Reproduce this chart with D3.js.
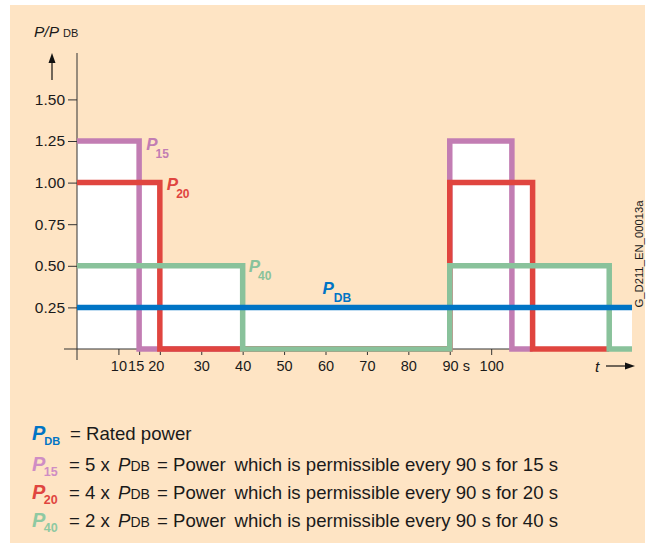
<!DOCTYPE html>
<html lang="en">
<head>
    <meta charset="UTF-8">
    <title>P/PDB duty cycle</title>
    <script src="https://d3js.org/d3.v7.min.js"></script>
    <style>
        body { margin: 0; background: #fff; }
        svg { display: block; font-family: "Liberation Sans", Arial, sans-serif; }
        .axis line, .axis-line { stroke: #333; stroke-width: 1px; }
        .axis path { display: none; }
        .axis text { fill: #1a1a1a; }
        .series { fill: none; stroke-width: 5.5px; stroke-linejoin: miter; stroke-linecap: butt; }
        .legend text { fill: #1a1a1a; font-size: 18.6px; }
    </style>
</head>
<body>
<svg id="chart" width="652" height="546"></svg>
<script>
    // Werte (t in s, P/PDB)
    const yTicks = [0.25, 0.5, 0.75, 1.0, 1.25, 1.5];
    const xTicks = [10, 15, 20, 30, 40, 50, 60, 70, 80, 90, 100];
    const tEnd = 134;

    const p15 = [[0, 1.25], [15, 0], [90, 1.25], [105, 0], [110, 0]];
    const p20 = [[0, 1.0], [20, 0], [90, 1.0], [110, 0], [128.5, 0]];
    const p40 = [[0, 0.5], [40, 0], [90, 0.5], [128.5, 0], [tEnd, 0]];
    const pdb = [[0, 0.25], [tEnd, 0.25]];

    const series = [
        { key: '15', data: p15, color: '#c27db3', legendColor: '#cf8dc4' },
        { key: '20', data: p20, color: '#e0453f', legendColor: '#e0453f' },
        { key: '40', data: p40, color: '#89c29b', legendColor: '#8fc9a2' },
        { key: 'DB', data: pdb, color: '#0074c5', legendColor: '#0074c5' }
    ];

    const legendRows = [
        { key: 'DB', text: '= Rated power' },
        { key: '15', factor: '= 5 x', text: 'which is permissible every 90 s for 15 s' },
        { key: '20', factor: '= 4 x', text: 'which is permissible every 90 s for 20 s' },
        { key: '40', factor: '= 2 x', text: 'which is permissible every 90 s for 40 s' }
    ];

    const svg = d3.select('#chart');

    // Hintergrund
    svg.append('rect')
        .attr('x', 10).attr('y', 5)
        .attr('width', 635).attr('height', 538)
        .attr('fill', '#fee4c4');

    const x = d3.scaleLinear().domain([0, tEnd]).range([77, 632]);
    const y = d3.scaleLinear().domain([0, 1.5]).range([349, 99.4]);

    // step-Daten: letzter Punkt hält bis zum Ende
    const stepLine = d3.line().x(d => x(d[0])).y(d => y(d[1])).curve(d3.curveStepAfter);
    const stepArea = d3.area().x(d => x(d[0])).y0(y(0)).y1(d => y(d[1])).curve(d3.curveStepAfter);

    // weiße Flächen unter den Kurven
    const fillLayer = svg.append('g');
    series.forEach(s => {
        fillLayer.append('path').attr('d', stepArea(s.data)).attr('fill', '#fff');
    });

    // Achsen
    svg.append('line').attr('class', 'axis-line')
        .attr('x1', x(0)).attr('x2', x(0)).attr('y1', 53).attr('y2', 360);
    svg.append('line').attr('class', 'axis-line')
        .attr('x1', 64).attr('x2', x(tEnd)).attr('y1', y(0)).attr('y2', y(0));

    const yAxis = svg.append('g').attr('class', 'axis')
        .attr('transform', `translate(${x(0)},0)`)
        .call(d3.axisLeft(y).tickValues(yTicks).tickSize(9).tickPadding(3)
            .tickFormat(d3.format('.2f')));
    yAxis.selectAll('text').attr('font-size', 15.5);

    const xAxis = svg.append('g').attr('class', 'axis')
        .attr('transform', `translate(0,${y(0)})`)
        .call(d3.axisBottom(x).tickValues(xTicks).tickSize(6).tickPadding(6)
            .tickFormat(d => d === 90 ? '90 s' : d));
    xAxis.selectAll('text')
        .attr('font-size', 14.5)
        .attr('dx', d => d === 15 ? -3.5 : d === 20 ? -4 : d === 90 ? 6 : 0);

    // Linien
    const lineLayer = svg.append('g');
    series.forEach(s => {
        lineLayer.append('path').attr('class', 'series')
            .attr('d', stepLine(s.data))
            .attr('stroke', s.color);
    });

    // Kurvenbeschriftung
    function seriesLabel(g, key, px, py, color, subDx) {
        const t = g.append('text').attr('x', px).attr('y', py)
            .attr('fill', color).attr('font-weight', 'bold');
        t.append('tspan').attr('font-style', 'italic').attr('font-size', 17).text('P');
        t.append('tspan').attr('font-size', 12).attr('dx', subDx).attr('dy', 8).text(key);
    }
    const labels = svg.append('g');
    seriesLabel(labels, '15', x(15) + 7, y(1.25) + 9, series[0].color, -2);
    seriesLabel(labels, '20', x(20) + 7, y(1.0) + 7, series[1].color, -2);
    seriesLabel(labels, '40', x(40) + 6, y(0.5) + 6, series[2].color, -2);
    seriesLabel(labels, 'DB', x(60) - 3, y(0.25) - 13, series[3].color, 0);

    // Y-Titel mit Pfeil
    const yTitle = svg.append('text').attr('x', 34).attr('y', 37).attr('fill', '#1a1a1a');
    yTitle.append('tspan').attr('font-style', 'italic').attr('font-size', 15.5).text('P/P');
    yTitle.append('tspan').attr('font-size', 11).attr('dx', 4).text('DB');
    svg.append('line').attr('x1', 52).attr('x2', 52).attr('y1', 80).attr('y2', 60)
        .attr('stroke', '#111').attr('stroke-width', 1.2);
    svg.append('path').attr('d', 'M52,53 L48.5,63 L55.5,63 Z').attr('fill', '#111');

    // X-Titel mit Pfeil
    svg.append('text').attr('x', 595).attr('y', 372)
        .attr('font-style', 'italic').attr('font-size', 15.5).attr('fill', '#1a1a1a').text('t');
    svg.append('line').attr('x1', 606).attr('x2', 628).attr('y1', 366).attr('y2', 366)
        .attr('stroke', '#111').attr('stroke-width', 1.2);
    svg.append('path').attr('d', 'M635,366 L625,362.5 L625,369.5 Z').attr('fill', '#111');

    // Kennung rechts
    svg.append('text')
        .attr('transform', 'translate(643,254) rotate(-90)')
        .attr('text-anchor', 'middle')
        .attr('font-size', 11.3).attr('fill', '#1a1a1a')
        .text('G_D211_EN_00013a');

    // Legende
    const legend = svg.append('g').attr('class', 'legend');
    const colorOf = k => series.find(s => s.key === k).legendColor;
    const rowY = [440, 470.5, 498.5, 526.5];
    legendRows.forEach((r, i) => {
        const by = rowY[i];
        const sym = legend.append('text').attr('x', 32).attr('y', by)
            .attr('font-weight', 'bold').style('fill', colorOf(r.key));
        sym.append('tspan').attr('font-style', 'italic').style('font-size', '20px').text('P');
        sym.append('tspan').style('font-size', r.key === 'DB' ? '11px' : '12.5px')
            .attr('dx', r.key === 'DB' ? -1 : -1.5)
            .attr('dy', 5).text(r.key);

        if (!r.factor) {
            legend.append('text').attr('x', 70).attr('y', by).text(r.text);
            return;
        }
        legend.append('text').attr('x', 69).attr('y', by).text(r.factor);
        const pd = legend.append('text').attr('x', 118).attr('y', by);
        pd.append('tspan').attr('font-style', 'italic').text('P');
        pd.append('tspan').style('font-size', '14px').attr('dx', 0).text('DB');
        legend.append('text').attr('x', 157).attr('y', by).text('= Power');
        legend.append('text').attr('x', 234.5).attr('y', by).text(r.text);
    });
</script>
</body>
</html>
